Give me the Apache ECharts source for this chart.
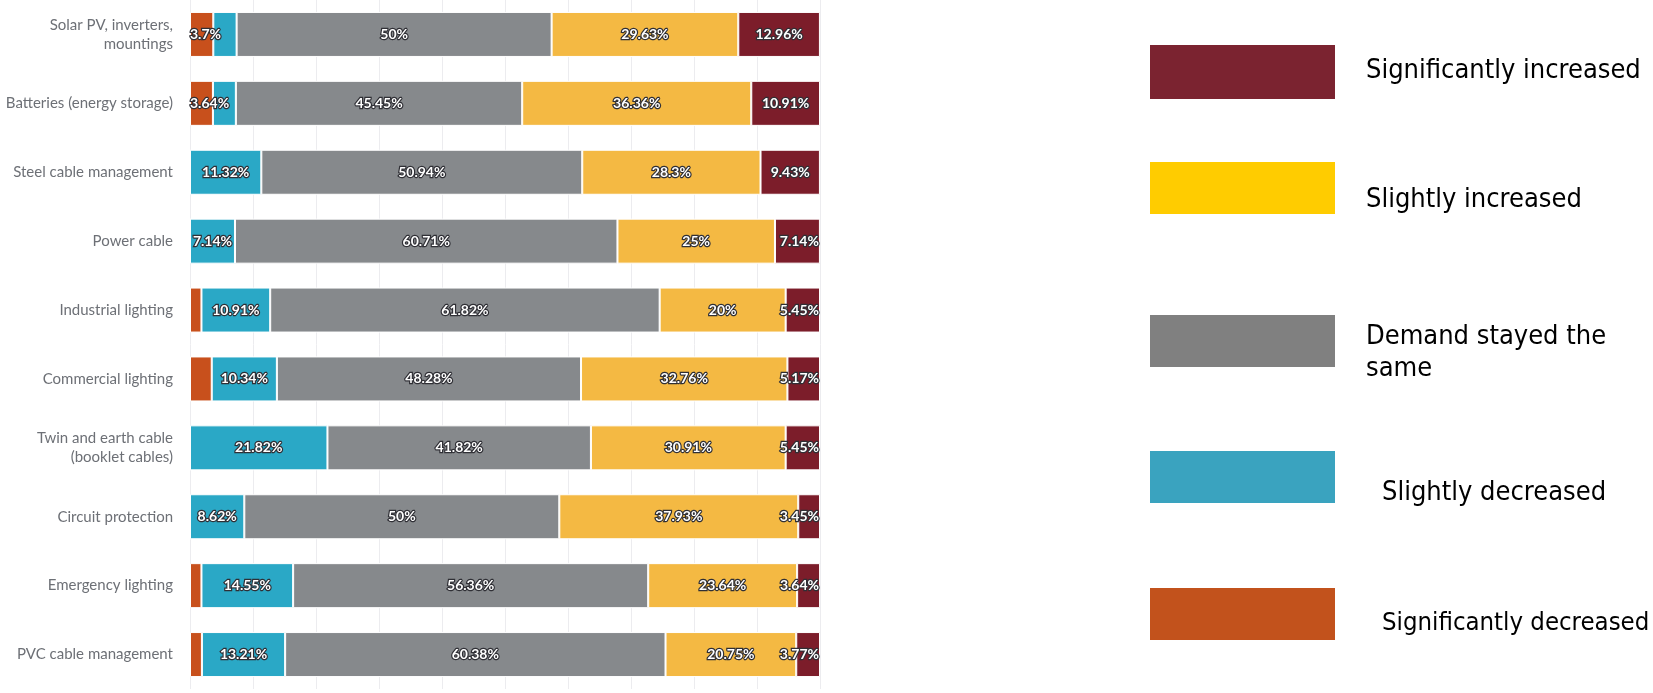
<!DOCTYPE html>
<html>
<head>
<meta charset="utf-8">
<style>
  html, body { margin: 0; padding: 0; background: #ffffff; }
  #chart { width: 1653px; height: 693px; }
</style>
<script src="https://cdn.jsdelivr.net/npm/echarts@6/dist/echarts.min.js"></script>
</head>
<body>
<div id="chart"></div>
<script>
// Product categories, top to bottom
const categories = [
  'Solar PV, inverters,\nmountings',
  'Batteries (energy storage)',
  'Steel cable management',
  'Power cable',
  'Industrial lighting',
  'Commercial lighting',
  'Twin and earth cable\n(booklet cables)',
  'Circuit protection',
  'Emergency lighting',
  'PVC cable management'
];

// Share of respondents (%) per demand change, one value per category
const significantlyDecreased = [3.7, 3.64, 0, 0, 1.82, 3.45, 0, 0, 1.82, 1.89];
const slightlyDecreased      = [3.7, 3.64, 11.32, 7.14, 10.91, 10.34, 21.82, 8.62, 14.55, 13.21];
const stayedTheSame          = [50, 45.45, 50.94, 60.71, 61.82, 48.28, 41.82, 50, 56.36, 60.38];
const slightlyIncreased      = [29.63, 36.36, 28.3, 25, 20, 32.76, 30.91, 37.93, 23.64, 20.75];
const significantlyIncreased = [12.96, 10.91, 9.43, 7.14, 5.45, 5.17, 5.45, 3.45, 3.64, 3.77];

// Series names (stack order, left to right) and their key texts
const seriesNames = [
  'Significantly decreased',
  'Slightly decreased',
  'Demand stayed the same',
  'Slightly increased',
  'Significantly increased'
];
const keyLabels = [
  'Significantly decreased',
  'Slightly decreased',
  'Demand stayed the\nsame',
  'Slightly increased',
  'Significantly increased'
];

// Value labels that are left unlabelled: [series index, category index]
const unlabelled = [[1, 0], [1, 1], [0, 4], [0, 5], [0, 8], [0, 9]];

const seriesValues = [significantlyDecreased, slightlyDecreased, stayedTheSame, slightlyIncreased, significantlyIncreased];
const barColors = ['#c8501c', '#2aa8c6', '#86898c', '#f4b943', '#7c1d2a'];
const keyColors = ['#c2521c', '#3aa3bf', '#808080', '#ffcc00', '#7b2330'];

const chart = echarts.init(document.getElementById('chart'), null, { renderer: 'canvas' });

const labelStyle = {
  show: true,
  position: 'inside',
  color: '#ffffff',
  fontFamily: 'Lato, "Open Sans", sans-serif',
  fontSize: 14,
  fontWeight: 'bold',
  textBorderColor: '#2f2f35',
  textBorderWidth: 2.4,
  formatter: p => p.value + '%'
};

const series = seriesValues.map((vals, si) => ({
  name: seriesNames[si],
  type: 'bar',
  stack: 'total',
  barWidth: 45,
  itemStyle: { color: barColors[si], borderColor: '#ffffff', borderWidth: 1 },
  label: labelStyle,
  emphasis: { disabled: true },
  data: vals.map((v, ci) => {
    const hidden = unlabelled.some(([s, c]) => s === si && c === ci);
    const item = { value: v };
    if (v === 0 || hidden) {
      item.label = { show: false };
    } else if (si === 0 && v < 5) {
      item.label = { position: 'insideLeft', distance: 0 };
    } else if (si === 4 && v < 8) {
      item.label = { position: 'insideRight', distance: 1 };
    }
    return item;
  })
}));

// Colour key on the right-hand side
const keyBoxes = [
  { top: 45,  h: 54, series: 4, tx: 1366, ty: 70.5, size: 27 },
  { top: 162, h: 52, series: 3, tx: 1366, ty: 200, size: 27 },
  { top: 315, h: 52, series: 2, tx: 1366, ty: 337, size: 27 },
  { top: 451, h: 52, series: 1, tx: 1382, ty: 493, size: 27 },
  { top: 588, h: 52, series: 0, tx: 1382, ty: 623.5, size: 25.5 }
];
const graphic = [];
keyBoxes.forEach(k => {
  graphic.push({
    type: 'rect',
    shape: { x: 1150, y: k.top, width: 185, height: k.h },
    style: { fill: keyColors[k.series] },
    silent: true
  });
  graphic.push({
    type: 'text',
    x: k.tx,
    y: k.ty - 16,
    style: {
      text: keyLabels[k.series],
      fill: '#000000',
      fontFamily: '"DejaVu Sans Condensed", "Liberation Sans", sans-serif',
      fontSize: k.size,
      lineHeight: 32,
      verticalAlign: 'top',
      align: 'left'
    },
    silent: true
  });
});

chart.setOption({
  backgroundColor: '#ffffff',
  animation: false,
  grid: { left: 190, top: -5, width: 630, height: 694, containLabel: false },
  xAxis: {
    type: 'value',
    min: 0,
    max: 100,
    interval: 10,
    axisLabel: { show: false },
    axisLine: { show: false },
    axisTick: { show: false },
    splitLine: { show: true, lineStyle: { color: '#ececef', width: 1 } }
  },
  yAxis: {
    type: 'category',
    inverse: true,
    data: categories,
    axisLine: { show: false },
    axisTick: { show: false },
    axisLabel: {
      margin: 17,
      color: '#6d7076',
      fontFamily: 'Lato, "Open Sans", sans-serif',
      fontSize: 15,
      lineHeight: 19,
      align: 'right'
    }
  },
  graphic: graphic,
  series: series
});
</script>
</body>
</html>
